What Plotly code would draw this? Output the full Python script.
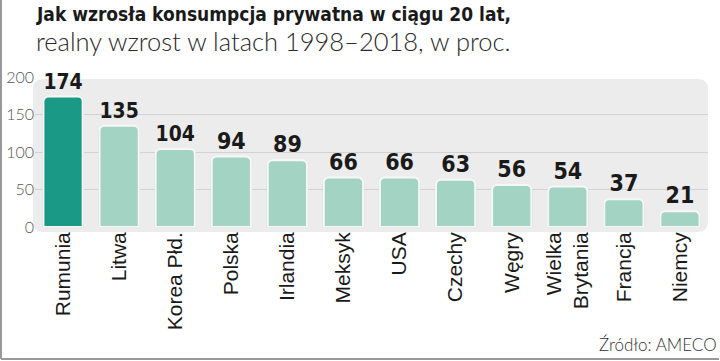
import plotly.graph_objects as go

categories = ["Rumunia", "Litwa", "Korea Płd.", "Polska", "Irlandia", "Meksyk",
              "USA", "Czechy", "Węgry", "Wielka<br>Brytania", "Francja", "Niemcy"]
values = [174, 135, 104, 94, 89, 66, 66, 63, 56, 54, 37, 21]
highlight = "Rumunia"
y_ticks = [0, 50, 100, 150, 200]

colors = ["#1a9a86" if c == highlight else "#a3d3c3" for c in categories]

L, R, T, B = 35, 12, 77, 134
W, H = 720, 361
pw, ph = W - L - R, H - T - B
xs = list(range(len(categories)))

fig = go.Figure()
# faint outer outline / shadow of the bars
fig.add_trace(go.Bar(
    x=xs, y=values, width=0.74, hoverinfo="skip",
    marker=dict(color="#c9c9c9", line=dict(width=0), cornerradius=6),
))
fig.add_trace(go.Bar(
    x=xs, y=values,
    marker=dict(color=colors, line=dict(color="#f7f7f7", width=2), cornerradius=5),
    width=0.7,
    text=[str(v) for v in values], textposition="outside",
    textfont=dict(family="DejaVu Sans Condensed", size=23, color="#1a1a1a", weight="bold"),
    cliponaxis=False,
))

def px2paper(x, y):
    return (x - L) / pw, (H - B - y) / ph

# rounded panel background
x0, y0, x1, y1, r = 33, 79, 708, 232, 10
def P(x, y):
    a, b = px2paper(x, y)
    return f"{a:.4f},{b:.4f}"
path = (f"M {P(x0+r,y0)} L {P(x1-r,y0)} Q {P(x1,y0)} {P(x1,y0+r)} L {P(x1,y1-r)} "
        f"Q {P(x1,y1)} {P(x1-r,y1)} L {P(x0+r,y1)} Q {P(x0,y1)} {P(x0,y1-r)} "
        f"L {P(x0,y0+r)} Q {P(x0,y0)} {P(x0+r,y0)} Z")
shapes = [dict(type="path", xref="paper", yref="paper", path=path,
               fillcolor="#ececec", line=dict(width=0), layer="below")]
# outer frame (left and bottom)
fx0, fy0 = px2paper(1, 0)
fx1, fy1 = px2paper(719, 359)
shapes.append(dict(type="line", xref="paper", yref="paper", x0=fx0, x1=fx0, y0=fy0, y1=fy1,
                   line=dict(color="#999999", width=2)))
shapes.append(dict(type="line", xref="paper", yref="paper", x0=fx0, x1=fx1, y0=fy1, y1=fy1,
                   line=dict(color="#999999", width=2)))

annotations = []
tx, ty = px2paper(34, 1)
annotations.append(dict(xref="paper", yref="paper", x=tx, y=ty, xanchor="left", yanchor="top",
                        text="Jak wzrosła konsumpcja prywatna w ciągu 20 lat,", showarrow=False,
                        font=dict(family="DejaVu Sans Condensed", size=19, color="#1a1a1a", weight="bold")))
sx, sy = px2paper(34, 24)
annotations.append(dict(xref="paper", yref="paper", x=sx, y=sy, xanchor="left", yanchor="top",
                        text="realny wzrost w latach 1998–2018, w proc.", showarrow=False,
                        font=dict(family="Lato", size=25.5, color="#2a2a2a", weight=300)))
zx, zy = px2paper(719, 357)
annotations.append(dict(xref="paper", yref="paper", x=zx, y=zy, xanchor="right", yanchor="bottom",
                        text="Źródło: AMECO", showarrow=False,
                        font=dict(family="Lato", size=17, color="#333333", weight=300)))

fig.update_layout(
    width=W, height=H, margin=dict(l=L, r=R, t=T, b=B, pad=0, autoexpand=False),
    paper_bgcolor="white", plot_bgcolor="rgba(0,0,0,0)", barmode="overlay",
    showlegend=False, shapes=shapes, annotations=annotations,
)
fig.update_xaxes(range=[-0.5, len(categories) - 0.5], tickmode="array",
                 tickvals=xs, ticktext=categories, automargin=False,
                 tickangle=-90, showgrid=False, zeroline=False, showline=False, ticks="",
                 tickfont=dict(family="Liberation Sans", size=21, color="#1a1a1a"))
fig.update_yaxes(range=[0, 200], tickvals=y_ticks, showgrid=True, gridcolor="#d2d2d2",
                 gridwidth=1, zeroline=False, showline=False, ticks="", automargin=False,
                 tickfont=dict(family="Lato", size=16, color="#555555", weight=300))

fig.write_html("out.html", config={"displayModeBar": False},
               post_script="document.body.style.margin='0';document.body.style.overflow='hidden';")
